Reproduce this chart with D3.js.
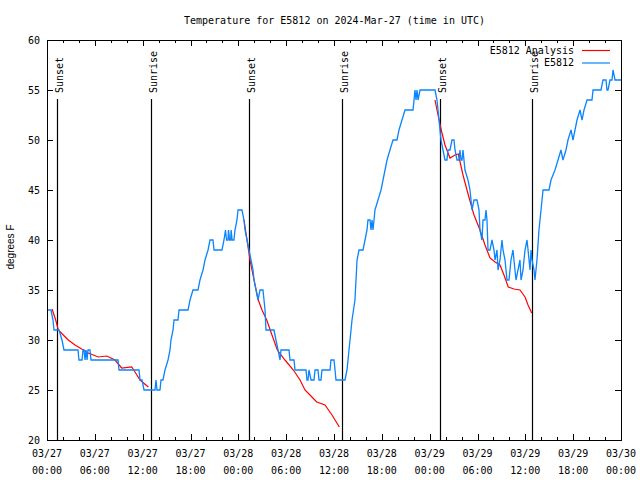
<!DOCTYPE html>
<html><head><meta charset="utf-8">
<script src="https://cdn.jsdelivr.net/npm/d3@7"></script>
<style>
body{margin:0;background:#fff;}
svg{display:block;}
text{fill:#000;}
</style></head><body>
<svg id="chart" width="640" height="480"></svg>
<script>
// ---- data ----
const title = "Temperature for E5812 on 2024-Mar-27 (time in UTC)";
const yLabel = "degrees F";
const yTicks = [20, 25, 30, 35, 40, 45, 50, 55, 60];
const xTickHours = [0, 6, 12, 18, 24, 30, 36, 42, 48, 54, 60, 66, 72];
const xTickDates = ["03/27","03/27","03/27","03/27","03/28","03/28","03/28","03/28","03/29","03/29","03/29","03/29","03/30"];
const xTickTimes = ["00:00","06:00","12:00","18:00","00:00","06:00","12:00","18:00","00:00","06:00","12:00","18:00","00:00"];
const xMinorHours = d3.range(0, 73, 2);
const sunHours = [1.22, 13.01, 25.30, 36.97, 49.34, 60.88];
const sunLabels = ["Sunset","Sunrise","Sunset","Sunrise","Sunset","Sunrise"];
const seriesNames = ["E5812 Analysis", "E5812"];

// observed station temperature (hours since 03/27 00:00 UTC, degF)
const obsHours = [0.13,0.50,0.75,0.88,1.51,1.88,2.13,3.89,4.01,4.39,4.52,4.64,4.77,4.89,5.02,5.14,5.39,5.52,5.64,8.91,9.03,9.16,11.54,11.67,11.92,12.17,13.55,13.67,13.80,14.17,14.30,14.55,14.80,15.18,15.43,15.55,15.81,15.93,16.43,16.56,17.69,17.94,18.31,18.94,19.19,19.57,19.82,20.20,20.45,20.82,20.95,21.95,22.20,22.39,22.52,22.70,22.77,22.90,23.04,23.10,23.22,23.45,23.58,23.83,23.96,24.46,24.71,24.84,25.09,25.34,25.59,25.84,25.97,26.22,26.47,26.72,27.09,27.22,27.35,27.47,28.47,28.72,28.98,29.23,29.35,30.36,30.48,30.98,31.11,32.49,32.61,32.74,32.86,33.12,33.49,33.62,33.99,34.12,34.37,34.49,35.50,35.62,36.00,36.13,36.25,37.38,37.63,37.76,37.88,38.01,38.26,38.63,38.76,38.89,39.14,39.64,39.89,40.14,40.26,40.52,40.64,40.77,40.89,41.02,41.14,41.52,41.90,42.15,42.40,42.65,43.02,43.40,43.90,44.15,44.53,44.91,45.91,46.04,46.16,46.29,46.41,46.54,46.79,48.67,48.92,49.05,49.17,49.42,49.67,49.92,50.17,50.30,50.55,50.80,51.05,51.18,51.43,51.68,51.80,51.93,52.06,52.18,52.43,52.81,53.06,53.31,53.56,53.94,54.19,54.31,54.56,54.69,54.94,55.07,55.19,55.32,55.57,55.82,56.07,56.20,56.45,56.57,56.82,57.07,57.20,57.45,57.70,57.95,58.20,58.45,58.70,58.83,59.08,59.33,59.46,59.71,59.83,59.96,60.21,60.34,60.59,60.71,60.84,61.09,61.21,61.46,61.71,61.97,62.22,62.97,63.22,63.72,64.10,64.47,64.72,65.10,65.35,65.73,65.98,66.23,66.48,66.86,67.11,67.36,67.74,68.36,68.49,69.49,69.74,70.12,70.24,70.37,70.62,70.87,71.00,71.25,72.00];
const obsTemps = [33,33,32,31,31,30,29,29,28,28,29,29,28,29,28,29,29,28,28,28,27,27,27,26,26,25,25,26,25,25,26,26,27,28,29,30,31,32,32,33,33,34,35,35,36,37,38,39,40,40,39,39,40,41,40,40,41,40,40,41,40,40,41,42,43,43,42,41,40,39,38,37,36,35,34,35,35,34,33,31,31,30,29,28,29,29,28,28,27,27,26,26,27,26,26,27,27,26,26,27,27,28,28,27,26,26,27,28,29,30,32,34,36,38,39,39,40,41,42,42,41,42,41,42,43,44,45,46,47,48,49,50,50,51,52,53,53,54,55,54,55,54,55,55,54,53,52,50,49,48,48,49,49,50,50,49,48,48,49,48,48,49,47,46,45,43,44,44,43,41,40,42,42,43,42,39,39,40,39,38,39,37,38,40,39,38,36,36,38,39,37,36,37,38,36,37,38,39,40,39,37,39,38,37,36,38,41,43,45,45,46,47,48,49,48,49,50,51,50,51,52,53,52,53,54,54,55,55,56,56,55,55,56,56,57,56,56];

// analysis temperature, three nightly segments
const anaHours1 = [0.63,1.09,1.42,2.04,2.67,3.51,4.14,5.18,6.43,7.49,8.53,9.37,10.62,11.04,11.67,12.71];
const anaTemps1 = [33.1,32.0,31.0,30.5,30.0,29.5,29.2,28.7,28.3,28.4,28.0,27.2,27.3,26.8,26.0,25.3];
const anaHours2 = [24.71,25.09,25.46,25.97,26.50,26.97,27.56,28.22,28.89,29.85,30.90,31.74,32.36,32.99,33.83,34.87,35.75,36.67];
const anaTemps2 = [42.0,40.0,38.0,36.0,34.0,33.0,32.0,30.5,29.0,28.0,27.0,26.0,25.0,24.5,23.8,23.5,22.5,21.3];
const anaHours3 = [48.67,49.05,49.51,49.92,50.55,51.18,51.59,52.18,52.85,53.56,54.31,54.94,55.57,56.20,56.82,57.32,57.86,58.58,59.33,59.96,60.34,60.80];
const anaTemps3 = [54.0,52.5,50.8,49.5,48.2,48.5,48.6,46.5,44.5,42.5,41.0,39.5,38.2,37.8,37.5,36.5,35.3,35.1,35.0,34.3,33.5,32.7];

// ---- drawing ----
const svg = d3.select("#chart");
const L = 47, R = 621, T = 40, B = 440;
const x = d3.scaleLinear().domain([0, 72]).range([L, R]);
const y = d3.scaleLinear().domain([20, 60]).range([B, T]);
const mono = "'DejaVu Sans Mono', 'Liberation Mono', monospace";
const RED = "#ff0000", BLUE = "#0a84ff";

// frame
svg.append("rect").attr("x", L + 0.5).attr("y", T + 0.5).attr("width", R - L).attr("height", B - T)
  .attr("fill", "none").attr("stroke", "#000").attr("stroke-width", 1);

// ticks (inward, mirrored)
const tickG = svg.append("g").attr("stroke", "#000").attr("stroke-width", 1);
xMinorHours.forEach(h => {
  const major = h % 6 === 0;
  const len = major ? 6 : 3;
  const px = Math.round(x(h)) + 0.5;
  tickG.append("line").attr("x1", px).attr("x2", px).attr("y1", B).attr("y2", B - len);
  tickG.append("line").attr("x1", px).attr("x2", px).attr("y1", T).attr("y2", T + len);
});
yTicks.forEach(v => {
  const py = Math.round(y(v)) + 0.5;
  tickG.append("line").attr("x1", L).attr("x2", L + 6).attr("y1", py).attr("y2", py);
  tickG.append("line").attr("x1", R).attr("x2", R - 6).attr("y1", py).attr("y2", py);
});

// y tick labels
svg.append("g").selectAll("text").data(yTicks).join("text")
  .attr("x", L - 7).attr("y", d => y(d)).attr("dy", "0.35em")
  .attr("text-anchor", "end").attr("font-family", mono).attr("font-size", 10)
  .text(d => d);

// x tick labels
const xl = svg.append("g").selectAll("text").data(xTickHours).join("text")
  .attr("text-anchor", "middle").attr("font-family", mono).attr("font-size", 10);
xl.append("tspan").attr("x", d => x(d)).attr("y", 457).text((d, i) => xTickDates[i]);
xl.append("tspan").attr("x", d => x(d)).attr("y", 474).text((d, i) => xTickTimes[i]);

// title
svg.append("text").attr("x", (L + R) / 2 + 0.5).attr("y", 24).attr("text-anchor", "middle")
  .attr("font-family", mono).attr("font-size", 10).text(title);

// y label
svg.append("text").attr("transform", `translate(14,247) rotate(-90)`).attr("text-anchor", "middle")
  .attr("font-family", "'Liberation Sans', Arial, sans-serif").attr("font-size", 10).text(yLabel);

// sunrise / sunset lines
sunHours.forEach((h, i) => {
  const px = Math.round(x(h)) + 0.5;
  svg.append("line").attr("x1", px).attr("x2", px).attr("y1", y(54.1)).attr("y2", B)
    .attr("stroke", "#000").attr("stroke-width", 1.2);
  svg.append("text").attr("transform", `translate(${px + 5},93) rotate(-90)`)
    .attr("text-anchor", "start").attr("font-family", mono).attr("font-size", 10).text(sunLabels[i]);
});

// lines
const line = d3.line().x(d => x(d[0])).y(d => y(d[1]));
[[anaHours1, anaTemps1], [anaHours2, anaTemps2], [anaHours3, anaTemps3]].forEach(([hs, ts]) => {
  svg.append("path").datum(hs.map((h, i) => [h, ts[i]])).attr("d", line)
    .attr("fill", "none").attr("stroke", RED).attr("stroke-width", 1.2);
});
svg.append("path").datum(obsHours.map((h, i) => [h, obsTemps[i]])).attr("d", line)
  .attr("fill", "none").attr("stroke", BLUE).attr("stroke-width", 1.3).attr("stroke-linejoin", "miter");

// legend
const leg = svg.append("g");
[[seriesNames[0], RED, 50], [seriesNames[1], BLUE, 62.5]].forEach(([name, col, ly]) => {
  leg.append("text").attr("x", 574).attr("y", ly).attr("dy", "0.35em").attr("text-anchor", "end")
    .attr("font-family", mono).attr("font-size", 10).text(name);
  leg.append("line").attr("x1", 582).attr("x2", 610).attr("y1", ly + 0.5).attr("y2", ly + 0.5)
    .attr("stroke", col).attr("stroke-width", 1.2);
});
</script>
</body></html>
